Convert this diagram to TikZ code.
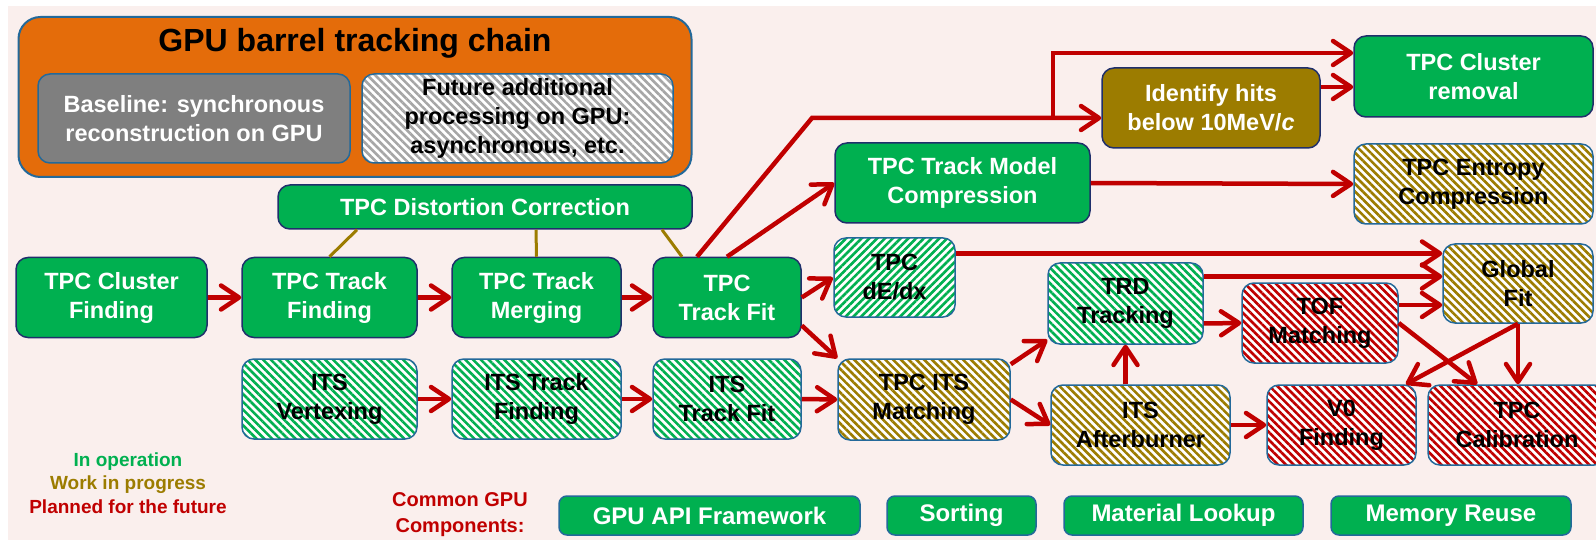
\documentclass[tikz,border=0pt]{standalone}
\usepackage{fontspec}
\setmainfont{Liberation Sans}
\usetikzlibrary{arrows.meta,patterns.meta}
\definecolor{bgpink}{HTML}{FAEFED}
\definecolor{opgreen}{HTML}{00B050}
\definecolor{wipolive}{HTML}{9C7C00}
\definecolor{planred}{HTML}{C00000}
\definecolor{chainorange}{HTML}{E46C0A}
\definecolor{edgenavy}{HTML}{1F2F6B}
\definecolor{edgeteal}{HTML}{23699A}
\definecolor{basegray}{HTML}{7F7F7F}
\definecolor{hatchgray}{HTML}{A6A6A6}
\newcommand\boxfont{\fontsize{23.5}{29}\selectfont\bfseries}
\begin{document}
\begin{tikzpicture}[x=1pt,y=-1pt,
  blk/.style={rounded corners=12pt,align=center,font=\boxfont,inner sep=2pt},
  opbox/.style={blk,fill=opgreen,draw=edgenavy,line width=1.5pt,text=white},
  hatchbox/.style={blk,draw=edgeteal,line width=1.5pt,text=black,preaction={fill=white},
    pattern={Lines[angle=-45,distance=5.5pt,line width=2.6pt]},pattern color=#1},
  compbox/.style={opbox,draw=edgeteal,rounded corners=8pt,minimum height=39pt,
    font=\fontsize{24}{28}\selectfont\bfseries},
  legend/.style={font=\fontsize{19}{21}\selectfont\bfseries,inner sep=0pt},
  arr/.style={draw=planred,line width=4.5pt,-{Straight Barb[length=18pt,width=24pt,round]}},
  olink/.style={draw=wipolive,line width=3pt}]
% GPU barrel tracking chain, ALICE O2
\useasboundingbox (0,0) rectangle (1596,540);
\clip (0,0) rectangle (1596,540);
\fill[white] (0,0) rectangle (1596,540);
\fill[bgpink] (8,6) rectangle (1596,540);

\node[draw=edgeteal,line width=2pt,fill=chainorange,rounded corners=22pt,
  minimum width=673pt,minimum height=160pt] (chain) at (355,97) {};
\node[font=\fontsize{32}{38}\selectfont\bfseries] (title) at (355,43) {GPU barrel tracking chain};
\node[blk,fill=basegray,draw=edgeteal,line width=1.5pt,text=white,
  minimum width=312pt,minimum height=89pt] (base) at (194,118.5)
  {Baseline: synchronous\\reconstruction on GPU};
\node[hatchbox=hatchgray,minimum width=311pt,minimum height=89pt] (future) at (517.5,118.5)
  {Future additional\\processing on GPU:\\asynchronous, etc.};

\node[opbox,minimum width=414pt,minimum height=44pt] (dist) at (485,207) {TPC Distortion Correction};
\node[opbox,minimum width=191pt,minimum height=80pt] (clf) at (111.5,297.5) {TPC Cluster\\Finding};
\node[opbox,minimum width=175pt,minimum height=80pt] (trf) at (329.5,297.5) {TPC Track\\Finding};
\node[opbox,minimum width=169pt,minimum height=80pt] (trm) at (536.5,297.5) {TPC Track\\Merging};
\node[opbox,minimum width=148pt,minimum height=80pt] (fit) at (727,297.5) {TPC\\Track Fit};

\node[hatchbox=opgreen,minimum width=175pt,minimum height=80pt] (itsv) at (329.5,399) {ITS\\Vertexing};
\node[hatchbox=opgreen,minimum width=169pt,minimum height=80pt] (itsf) at (536.5,399) {ITS Track\\Finding};
\node[hatchbox=opgreen,minimum width=148pt,minimum height=80pt] (itsfit) at (727,399) {ITS\\Track Fit};

\node[opbox,minimum width=255pt,minimum height=80pt] (tmc) at (962.5,183) {TPC Track Model\\Compression};
\node[blk,fill=wipolive,draw=edgenavy,line width=1.5pt,text=white,
  minimum width=218pt,minimum height=80pt] (hits) at (1211,108) {Identify hits\\below 10MeV/\textit{c}};
\node[opbox,minimum width=239pt,minimum height=81pt] (rem) at (1473.5,76.5) {TPC Cluster\\removal};
\node[hatchbox=wipolive,minimum width=239pt,minimum height=80pt] (ent) at (1473.5,184) {TPC Entropy\\Compression};

\node[hatchbox=opgreen,pattern={Lines[angle=45,distance=5.5pt,line width=2.6pt]},
  minimum width=121pt,minimum height=79pt] (dedx) at (894.5,277.5) {TPC\\dE/dx};
\node[hatchbox=opgreen,minimum width=155pt,minimum height=81pt] (trd) at (1125.5,303.5) {TRD\\Tracking};
\node[hatchbox=planred,minimum width=156pt,minimum height=80pt] (tof) at (1320,323) {TOF\\Matching};
\node[hatchbox=wipolive,minimum width=150pt,minimum height=79pt] (gfit) at (1518,283.5) {Global\\Fit};
\node[hatchbox=wipolive,minimum width=172pt,minimum height=81pt] (tim) at (924,399.5) {TPC ITS\\Matching};
\node[hatchbox=wipolive,minimum width=179pt,minimum height=80pt] (itsab) at (1140.5,425) {ITS\\Afterburner};
\node[hatchbox=planred,minimum width=149pt,minimum height=80pt] (v0) at (1341.5,425) {V0\\Finding};
\node[hatchbox=planred,minimum width=178pt,minimum height=80pt] (calib) at (1517,425) {TPC\\Calibration};

\node[legend,text=opgreen] (lgop) at (128,462) {In operation};
\node[legend,text=wipolive] (lgwip) at (128,485) {Work in progress};
\node[legend,text=planred] (lgplan) at (128,507) {Planned for the future};
\node[font=\fontsize{20}{26}\selectfont\bfseries,text=planred,align=center] (common) at (460,515)
  {Common GPU\\Components:};
\node[compbox,minimum width=301pt] (api) at (709.5,515.5) {GPU API Framework};
\node[compbox,minimum width=149pt] (sort) at (961.5,515.5) {Sorting};
\node[compbox,minimum width=239pt] (mat) at (1183.5,515.5) {Material Lookup};
\node[compbox,minimum width=240pt] (mem) at (1451,515.5) {Memory Reuse};

% distortion correction links
\draw[olink] ([xshift=-128pt]dist.south) -- (trf.north);
\draw[olink] ([xshift=51pt]dist.south) -- (trm.north);
\draw[olink] ([xshift=177pt]dist.south) -- ([xshift=-45pt]fit.north);

% data flow
\draw[arr] (clf.east) -- (trf.west);
\draw[arr] (trf.east) -- (trm.west);
\draw[arr] (trm.east) -- (fit.west);
\draw[arr] (itsv.east) -- (itsf.west);
\draw[arr] (itsf.east) -- (itsfit.west);
\draw[arr] (itsfit.east) -- (tim.west);

\coordinate (bend) at (812,118);
\coordinate (split) at (1053,118);
\coordinate (uptop) at (1053,53);
\draw[arr] ([xshift=-30pt]fit.north) -- (bend) -- (bend -| hits.west);
\draw[arr] (split) -- (uptop) -- (uptop -| rem.west);
\coordinate (hh) at ([yshift=21pt]hits.east);
\draw[arr] (hh) -- (hh -| rem.west);
\draw[arr] (fit.north) -- (tmc.west);
\draw[arr] (tmc.east) -- (ent.west);
\draw[arr] (fit.east) -- (dedx.west);
\draw[arr] ([yshift=-28pt]fit.east) -- (tim.north west);

\coordinate (dd) at ([yshift=24pt]dedx.east);
\draw[arr] (dd) -- (dd -| gfit.west);
\coordinate (tt) at ([yshift=27pt]trd.east);
\draw[arr] (tt) -- (tt -| gfit.west);
\coordinate (ff) at ([yshift=18pt]tof.east);
\draw[arr] (ff) -- (ff -| gfit.west);
\draw[arr] ([yshift=-20pt]trd.east) -- (tof.west);
\draw[arr] ([yshift=-6pt]tim.north east) -- ([yshift=5pt]trd.south west);
\draw[arr] (tim.east) -- (itsab.west);
\draw[arr] (itsab.north -| trd.south) -- (trd.south);
\draw[arr] (itsab.east) -- (v0.west);
\draw[arr] (tof.east) -- ([xshift=50pt]calib.north west);
\draw[arr] (gfit.south) -- ([xshift=-11pt]v0.north east);
\draw[arr] (gfit.south) -- (gfit.south |- calib.north);
\end{tikzpicture}
\end{document}
